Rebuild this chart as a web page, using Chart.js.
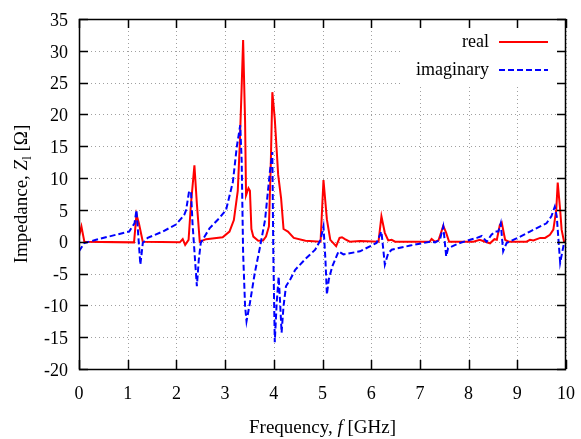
<!DOCTYPE html>
<html>
<head>
<meta charset="utf-8">
<script src="https://cdn.jsdelivr.net/npm/chart.js@4.4.1/dist/chart.umd.min.js"></script>
<style>
  html, body { margin: 0; padding: 0; background: #fff; }
  #wrap { width: 581px; height: 439px; }
</style>
</head>
<body>
<div id="wrap"><canvas id="c" width="581" height="439"></canvas></div>
<script>
// real part
const realFreq = [0.00, 0.05, 0.11, 1.13, 1.18, 1.23, 1.31, 2.07, 2.13, 2.18, 2.25, 2.30, 2.37, 2.42, 2.48, 2.61, 2.95, 3.09, 3.18, 3.26, 3.30, 3.34, 3.37, 3.41, 3.43, 3.48, 3.51, 3.54, 3.58, 3.68, 3.78, 3.84, 3.90, 3.94, 3.97, 4.02, 4.09, 4.15, 4.20, 4.29, 4.41, 4.65, 4.96, 5.02, 5.09, 5.16, 5.28, 5.35, 5.40, 5.46, 5.56, 5.77, 6.15, 6.21, 6.28, 6.35, 6.42, 6.49, 7.20, 7.24, 7.31, 7.38, 7.48, 7.54, 7.60, 8.10, 8.23, 8.34, 8.44, 8.53, 8.58, 8.64, 8.68, 8.75, 8.82, 9.19, 9.26, 9.33, 9.47, 9.57, 9.67, 9.74, 9.80, 9.83, 9.88, 9.91, 9.96, 10.0];
const realZ    = [0.8, 2.4, 0.0, -0.1, 4.3, 2.9, 0.0, -0.1, 0.4, -0.5, 0.3, 6.0, 12.0, 6.0, 0.0, 0.4, 0.7, 1.6, 3.4, 8.0, 15.0, 24.3, 31.7, 19.0, 7.3, 8.4, 8.0, 2.0, 0.8, 0.15, 0.2, 0.8, 2.4, 12.8, 23.5, 19.3, 10.5, 6.8, 2.0, 1.6, 0.6, 0.15, 0.0, 9.7, 3.5, 0.3, -0.7, 0.6, 0.7, 0.4, 0.0, 0.1, 0.0, 4.0, 1.4, 0.2, 0.3, 0.0, 0.0, 0.45, 0.0, 0.2, 2.5, 1.4, 0.0, 0.0, 0.3, 0.0, -0.25, 0.4, 0.3, 2.6, 3.0, 0.3, 0.0, 0.0, 0.3, 0.2, 0.6, 0.6, 1.1, 1.9, 5.0, 9.3, 5.0, 1.9, 0.0, 0.0];

// imaginary part
const imagFreq = [0.00, 0.11, 0.35, 0.76, 1.03, 1.14, 1.18, 1.26, 1.31, 1.41, 1.72, 1.99, 2.16, 2.20, 2.26, 2.30, 2.33, 2.42, 2.46, 2.50, 2.68, 2.88, 3.02, 3.16, 3.24, 3.31, 3.34, 3.37, 3.41, 3.44, 3.51, 3.61, 3.72, 3.82, 3.92, 3.97, 3.99, 4.02, 4.06, 4.10, 4.13, 4.16, 4.20, 4.25, 4.34, 4.44, 4.65, 4.85, 4.96, 5.02, 5.06, 5.09, 5.13, 5.20, 5.33, 5.43, 5.77, 6.11, 6.21, 6.28, 6.35, 6.42, 6.80, 7.21, 7.31, 7.41, 7.48, 7.54, 7.58, 7.82, 8.03, 8.17, 8.27, 8.37, 8.47, 8.54, 8.61, 8.66, 8.71, 8.78, 9.06, 9.26, 9.47, 9.60, 9.70, 9.77, 9.81, 9.88, 9.96, 10.0];
const imagZ    = [-1.5, -0.2, 0.3, 1.1, 1.6, 2.9, 5.0, -3.6, -0.2, 0.6, 1.6, 2.7, 4.2, 5.0, 7.9, 7.9, 3.0, -7.0, -2.8, -0.2, 2.1, 3.7, 5.0, 9.4, 14.9, 18.3, 12.8, -1.8, -10.1, -12.5, -9.6, -4.9, -0.7, 3.4, 11.0, 14.1, -1.8, -15.8, -9.5, -5.5, -9.6, -14.3, -10.1, -7.0, -5.9, -4.4, -2.7, -1.25, 0.3, 2.4, -2.8, -8.3, -5.9, -3.9, -1.5, -2.0, -1.5, -0.2, 1.6, -3.6, -1.8, -1.25, -0.6, 0.0, -0.1, 0.3, 2.4, -2.3, -1.0, -0.2, 0.3, 0.6, 0.9, 0.0, 1.1, 1.6, 1.6, 2.9, -1.5, -0.2, 0.8, 1.6, 2.4, 2.9, 4.0, 5.5, 4.0, -3.3, -0.2, 0.0];

const seriesNames = ['real', 'imaginary'];
const xTitle = ['Frequency, ', 'f', ' [GHz]'];
const yTitle = ['Impedance, ', 'Z', 'l', ' [\u03A9]'];

const SERIF = '"Liberation Serif", "DejaVu Serif", serif';

const toPts = (xs, ys) => xs.map((f, i) => ({ x: f, y: ys[i] }));

// dotted grid under the curves
const dotGrid = {
  id: 'dotGrid',
  beforeDatasetsDraw(chart) {
    const { ctx, chartArea: a, scales: { x, y } } = chart;
    ctx.save();
    ctx.strokeStyle = '#a0a0a0';
    ctx.lineWidth = 1;
    ctx.setLineDash([1, 3]);
    ctx.beginPath();
    x.ticks.forEach(t => {
      const px = Math.round(x.getPixelForValue(t.value)) + 0.5;
      ctx.moveTo(px, a.top); ctx.lineTo(px, a.bottom);
    });
    y.ticks.forEach(t => {
      const py = Math.round(y.getPixelForValue(t.value)) + 0.5;
      ctx.moveTo(a.left, py); ctx.lineTo(a.right, py);
    });
    ctx.stroke();
    ctx.restore();
  }
};

// frame, inward ticks, legend and axis titles, gnuplot style
const decor = {
  id: 'decor',
  afterDraw(chart) {
    const { ctx, chartArea: a, scales: { x, y } } = chart;
    ctx.save();

    // legend
    ctx.fillStyle = '#fff';
    ctx.fillRect(403, a.top + 1, a.right - 404, 66);
    ctx.font = '18px ' + SERIF;
    ctx.textAlign = 'right';
    ctx.textBaseline = 'middle';
    const rows = [42, 70];
    chart.data.datasets.forEach((ds, i) => {
      ctx.fillStyle = '#000';
      ctx.fillText(ds.label, 489, rows[i]);
      ctx.strokeStyle = ds.borderColor;
      ctx.lineWidth = 2;
      ctx.setLineDash(ds.borderDash || []);
      ctx.beginPath();
      ctx.moveTo(499, rows[i]); ctx.lineTo(548, rows[i]);
      ctx.stroke();
    });
    ctx.setLineDash([]);

    ctx.strokeStyle = '#000';
    ctx.lineWidth = 1.5;
    ctx.beginPath();
    x.ticks.forEach(t => {
      const px = Math.round(x.getPixelForValue(t.value)) + 0.5;
      ctx.moveTo(px, a.bottom); ctx.lineTo(px, a.bottom - 9);
      ctx.moveTo(px, a.top); ctx.lineTo(px, a.top + 9);
    });
    y.ticks.forEach(t => {
      const py = Math.round(y.getPixelForValue(t.value)) + 0.5;
      ctx.moveTo(a.left, py); ctx.lineTo(a.left + 9, py);
      ctx.moveTo(a.right, py); ctx.lineTo(a.right - 9, py);
    });
    ctx.stroke();

    // frame
    ctx.strokeRect(a.left + 0.5, a.top + 0.5, a.right - a.left - 1, a.bottom - a.top);

    // x title
    ctx.fillStyle = '#000';
    ctx.textAlign = 'left';
    ctx.textBaseline = 'alphabetic';
    const fN = '19px ' + SERIF, fI = 'italic 19px ' + SERIF;
    const runs = [[xTitle[0], fN], [xTitle[1], fI], [xTitle[2], fN]];
    let w = 0;
    runs.forEach(r => { ctx.font = r[1]; w += ctx.measureText(r[0]).width; });
    let cx = (a.left + a.right) / 2 - w / 2;
    runs.forEach(r => { ctx.font = r[1]; ctx.fillText(r[0], cx, 433); cx += ctx.measureText(r[0]).width; });

    // y title
    ctx.translate(27, (a.top + a.bottom) / 2);
    ctx.rotate(-Math.PI / 2);
    const yr = [[yTitle[0], fN, 0], [yTitle[1], fI, 0], [yTitle[2], '13px ' + SERIF, 4], [yTitle[3], fN, 0]];
    w = 0;
    yr.forEach(r => { ctx.font = r[1]; w += ctx.measureText(r[0]).width; });
    cx = -w / 2;
    yr.forEach(r => { ctx.font = r[1]; ctx.fillText(r[0], cx, r[2]); cx += ctx.measureText(r[0]).width; });
    ctx.restore();
  }
};

new Chart(document.getElementById('c'), {
  type: 'line',
  data: {
    datasets: [
      { label: seriesNames[0], data: toPts(realFreq, realZ), borderColor: '#ff0000', borderWidth: 2, pointRadius: 0, tension: 0, order: 2 },
      { label: seriesNames[1], data: toPts(imagFreq, imagZ), borderColor: '#0000ff', borderWidth: 2, borderDash: [6, 3], pointRadius: 0, tension: 0, order: 1 }
    ]
  },
  options: {
    responsive: false,
    animation: false,
    layout: { padding: { top: 19, right: 15, left: 0, bottom: 0 } },
    plugins: { legend: { display: false }, tooltip: { enabled: false } },
    scales: {
      x: {
        type: 'linear', min: 0, max: 10,
        afterFit: s => { s.height = 70; s.paddingLeft = 0; s.paddingRight = 0; },
        ticks: { stepSize: 1, padding: 14, color: '#000', font: { family: SERIF, size: 18 } },
        grid: { display: false, drawTicks: false },
        border: { display: false }
      },
      y: {
        type: 'linear', min: -20, max: 35,
        afterFit: s => { s.width = 79; s.paddingTop = 0; s.paddingBottom = 0; },
        ticks: { stepSize: 5, padding: 11, labelOffset: 2, color: '#000', font: { family: SERIF, size: 18 } },
        grid: { display: false, drawTicks: false },
        border: { display: false }
      }
    }
  },
  plugins: [dotGrid, decor]
});
</script>
</body>
</html>
